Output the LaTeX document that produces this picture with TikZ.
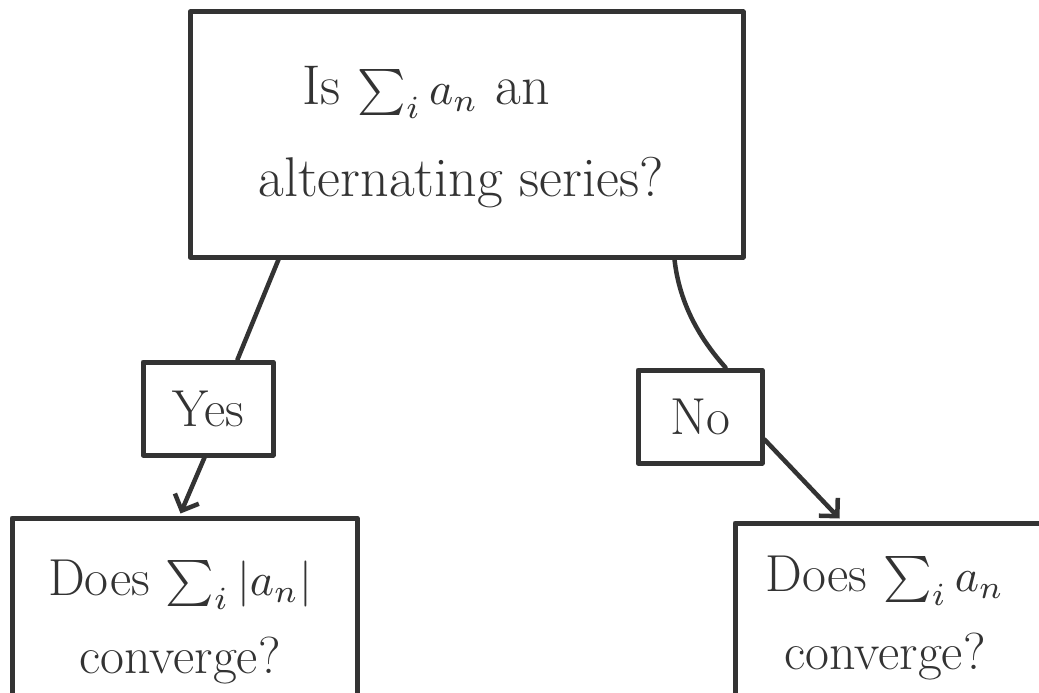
\documentclass[tikz,border=0pt]{standalone}
\usetikzlibrary{arrows.meta,calc}
\definecolor{ink}{HTML}{333333}
\newcommand{\mth}[1]{\scalebox{4.6}{\fontsize{10}{12}\selectfont$\textstyle #1$}}
\begin{document}
\begin{tikzpicture}[x=1pt,y=-1pt,
 box/.style={draw=ink,line width=5pt,rectangle,inner sep=0pt,line join=round},
 txt/.style={text=ink,font=\fontsize{56}{92}\selectfont,align=center,inner sep=0pt},
 btxt/.style={txt,font=\fontsize{52}{78}\selectfont},
 small/.style={text=ink,font=\fontsize{52}{56}\selectfont},
 link/.style={draw=ink,line width=4.5pt,line cap=round},
 arr/.style={link,-{Straight Barb[length=13pt,width=26pt]}}]
\useasboundingbox (0,0) rectangle (1039,693);
\clip (0,0) rectangle (1039,693);
\node[box,minimum width=553pt,minimum height=245pt] (top) at (466.5,134.5) {};
\node[txt] (q) at (461,137) {Is \mth{\sum_i a_n} an\hspace*{70pt}\\alternating series?};
\node[box,small,minimum width=130pt,minimum height=93pt] (yes) at (208,408.5) {Yes};
\node[box,small,minimum width=124pt,minimum height=93pt] (no) at (700,416.5) {No};
\node[box,minimum width=345pt,minimum height=190pt] (bl) at (184.5,613) {};
\node[btxt] (blq) at (180,622) {Does \mth{\sum_i |a_n|}\\converge?};
\node[box,minimum width=330pt,minimum height=190pt] (br) at (900,618) {};
\node[btxt] (brq) at (885,618) {Does \mth{\sum_i a_n}\\converge?};
\draw[link] ([xshift=91pt]top.south west) -- ([xshift=97pt]yes.north west);
\draw[arr] ([xshift=64pt]yes.south west) -- ([xshift=171pt,yshift=2pt]bl.north west);
\draw[link] ([xshift=-71pt]top.south east) .. controls +(5,45) and +(-25,-28) .. ([xshift=90pt]no.north west);
\draw[arr] ([yshift=-23pt]no.east) -- ([xshift=107pt,yshift=2pt]br.north west);
\end{tikzpicture}
\end{document}
